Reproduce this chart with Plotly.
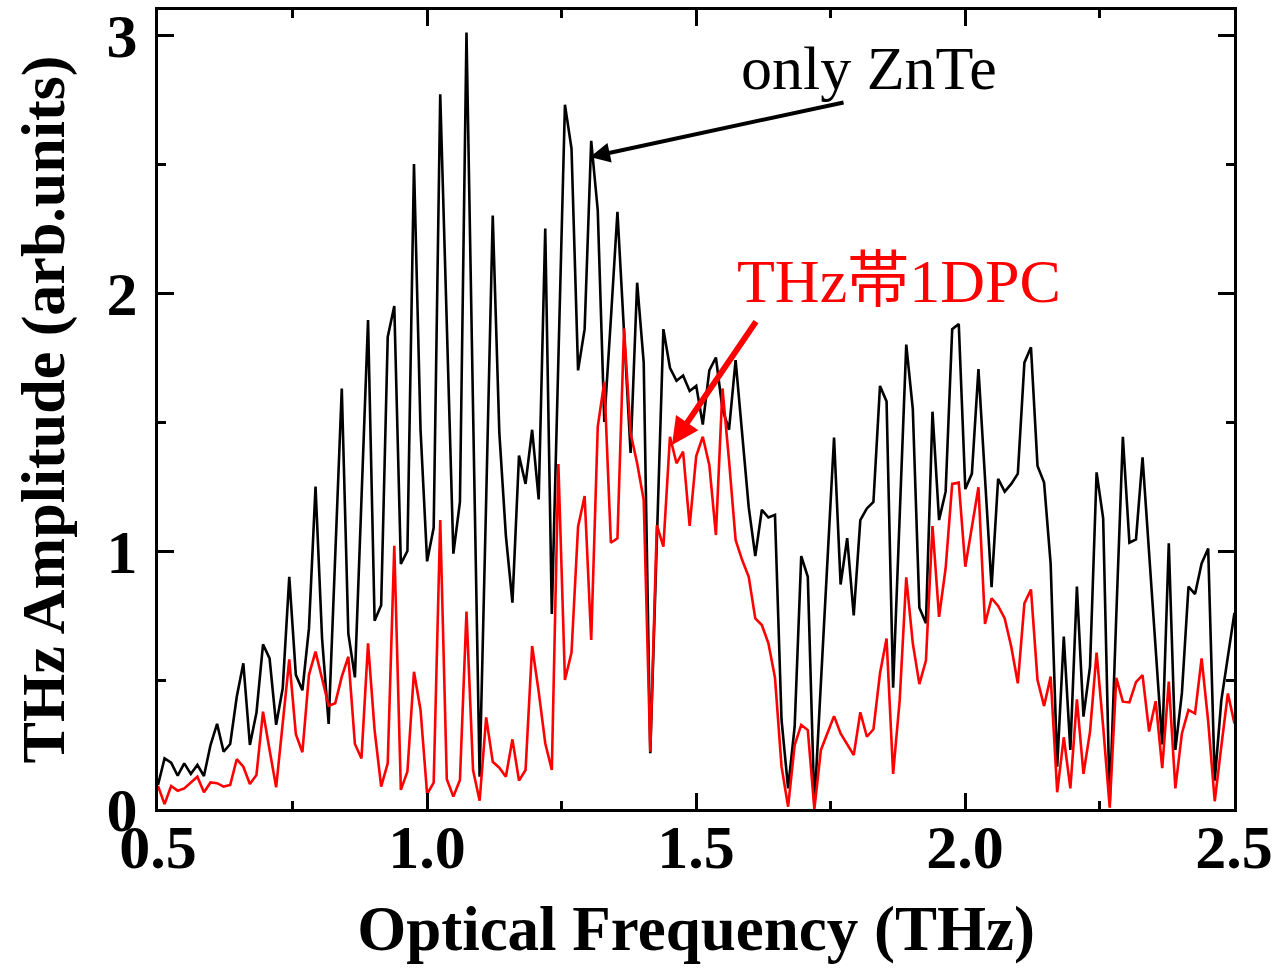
import numpy as np
import plotly.graph_objects as go

# Frequency grid (THz), sample step
f_start = 0.5
f_step = 0.0122

only_znte = [
    0.093, 0.196, 0.18, 0.129, 0.177, 0.136, 0.171, 0.128, 0.248, 0.33,
    0.222, 0.252, 0.435, 0.565, 0.248, 0.373, 0.638, 0.584, 0.326, 0.468,
    0.90, 0.52, 0.46, 0.70, 1.25, 0.66, 0.33, 0.97, 1.63, 0.68,
    0.51, 1.2, 1.895, 0.73, 0.79, 1.83, 1.95, 0.95, 1.0, 2.50,
    1.47, 0.96, 1.09, 2.77, 1.9, 0.99, 1.19, 3.01, 1.55, 0.125,
    1.2, 2.30, 1.46, 1.06, 0.80, 1.37, 1.26, 1.47, 1.20, 2.25,
    0.756, 1.74, 2.73, 2.56, 1.70, 1.86, 2.59, 2.32, 1.50, 1.9,
    2.315, 1.85, 1.38, 2.04, 1.73, 0.216, 1.0, 1.86, 1.71, 1.66,
    1.68, 1.62, 1.64, 1.49, 1.70, 1.75, 1.55, 1.47, 1.74, 1.46,
    1.17, 0.98, 1.16, 1.13, 1.14, 0.345, 0.08, 0.32, 0.98, 0.90,
    0.01, 0.49, 0.95, 1.44, 0.87, 1.05, 0.75, 1.12, 1.165, 1.19,
    1.64, 1.58, 0.47, 1.1, 1.80, 1.55, 0.78, 0.72, 1.54, 1.12,
    1.23, 1.86, 1.88, 1.24, 1.30, 1.705, 1.3, 0.86, 1.28, 1.23,
    1.26, 1.30, 1.73, 1.79, 1.33, 1.265, 0.95, 0.164, 0.668, 0.229,
    0.862, 0.358, 0.552, 1.305, 1.127, 0.022, 0.75, 1.443, 1.032, 1.045,
    1.363, 1.0, 0.6, 0.25, 1.03, 0.229, 0.45, 0.862, 0.833, 0.952,
    1.01, 0.11, 0.42, 0.6, 0.76,
]

thz_1dpc = [
    0.089, 0.019, 0.089, 0.071, 0.08, 0.102, 0.125, 0.065, 0.103, 0.10,
    0.087, 0.093, 0.193, 0.164, 0.097, 0.132, 0.377, 0.229, 0.084, 0.332,
    0.58, 0.29, 0.22, 0.52, 0.61, 0.505, 0.40, 0.41, 0.513, 0.59,
    0.252, 0.196, 0.642, 0.306, 0.087, 0.177, 1.02, 0.074, 0.145, 0.532,
    0.384, 0.058, 0.102, 1.12, 0.115, 0.048, 0.112, 0.765, 0.151, 0.032,
    0.355, 0.183, 0.16, 0.125, 0.27, 0.11, 0.151, 0.632, 0.455, 0.255,
    0.151, 1.337, 0.5, 0.606, 1.094, 1.213, 0.655, 1.482, 1.656, 1.032,
    1.049, 1.863, 1.456, 1.34, 1.198, 0.222, 1.1, 1.017, 1.443, 1.34,
    1.385, 1.097, 1.368, 1.443, 1.333, 1.062, 1.63, 1.35, 1.043, 0.965,
    0.9, 0.739, 0.713, 0.642, 0.509, 0.164, 0.009, 0.248, 0.326, 0.306,
    0.0, 0.229, 0.293, 0.36, 0.293, 0.252, 0.209, 0.375, 0.28, 0.309,
    0.526, 0.661, 0.136, 0.422, 0.898, 0.642, 0.484, 0.575, 1.097, 0.745,
    0.933, 1.26, 1.265, 0.939, 1.09, 1.247, 0.717, 0.817, 0.787, 0.739,
    0.629, 0.487, 0.797, 0.851, 0.5, 0.399, 0.513, 0.065, 0.278, 0.08,
    0.425, 0.136, 0.30, 0.606, 0.319, 0.005, 0.508, 0.416, 0.413, 0.492,
    0.519, 0.30, 0.418, 0.158, 0.494, 0.08, 0.293, 0.384, 0.37, 0.584,
    0.34, 0.03, 0.242, 0.448, 0.332,
]

freq = np.round(f_start + f_step * np.arange(len(only_znte)), 4)

x_ticks = [0.5, 1.0, 1.5, 2.0, 2.5]
x_tick_text = ["0.5", "1.0", "1.5", "2.0", "2.5"]
y_ticks = [0, 1, 2, 3]
y_tick_text = ["0", "1", "2", "3"]

SERIF = "Liberation Serif, Times New Roman, Noto Sans CJK JP, serif"

fig = go.Figure()
fig.add_trace(go.Scatter(x=freq, y=only_znte, mode="lines",
                         line=dict(color="black", width=2.6), name="only ZnTe"))
fig.add_trace(go.Scatter(x=freq, y=thz_1dpc, mode="lines",
                         line=dict(color="#ff0000", width=2.6), name="THz帯1DPC"))

axis_common = dict(
    showline=True, linecolor="black", linewidth=3, mirror="allticks",
    ticks="inside", ticklen=16, tickwidth=3, tickcolor="black",
    showgrid=False, zeroline=False, automargin=False,
    tickfont=dict(family=SERIF, size=62, color="black", weight="bold"),
)

fig.update_xaxes(
    range=[0.5, 2.5], tickvals=x_ticks, ticktext=x_tick_text,
    minor=dict(dtick=0.25, tick0=0.5, ticks="inside", ticklen=8, tickwidth=3,
               tickcolor="black", showgrid=False),
    title=dict(text="Optical Frequency (THz)", standoff=26,
               font=dict(family=SERIF, size=63, color="black", weight="bold")),
    ticklabelstandoff=-18,
    **axis_common,
)
fig.update_yaxes(
    range=[0, 3.097], tickvals=y_ticks, ticktext=y_tick_text,
    minor=dict(dtick=0.5, tick0=0, ticks="inside", ticklen=8, tickwidth=3,
               tickcolor="black", showgrid=False),
    title=dict(text="THz Amplitude (arb.units)", standoff=22,
               font=dict(family=SERIF, size=62, color="black", weight="bold")),
    ticklabelstandoff=5,
    **axis_common,
)

# labels and arrows
fig.add_annotation(x=1.8216, y=2.872, text="only ZnTe", showarrow=False,
                   font=dict(family=SERIF, size=62, color="black"))
fig.add_annotation(x=1.303, y=2.527, ax=1.777, ay=2.740, axref="x", ayref="y",
                   text="", showarrow=True, arrowhead=2, arrowsize=1.0,
                   arrowwidth=4, arrowcolor="black")
fig.add_annotation(x=1.877, y=2.047, text="THz帯1DPC", showarrow=False,
                   font=dict(family=SERIF, size=62, color="#ff0000"))
fig.add_annotation(x=1.4554, y=1.411, ax=1.6134, ay=1.895, axref="x", ayref="y",
                   text="", showarrow=True, arrowhead=2, arrowsize=0.9,
                   arrowwidth=6, arrowcolor="#ff0000")

fig.update_layout(
    width=1278, height=974,
    margin=dict(l=158, r=44, t=10, b=165, autoexpand=False),
    paper_bgcolor="white", plot_bgcolor="white",
    showlegend=False,
)

fig.write_html("out.html",
               config={"displayModeBar": False},
               post_script="document.body.style.margin='0px';"
                           "document.body.style.overflow='hidden';")
